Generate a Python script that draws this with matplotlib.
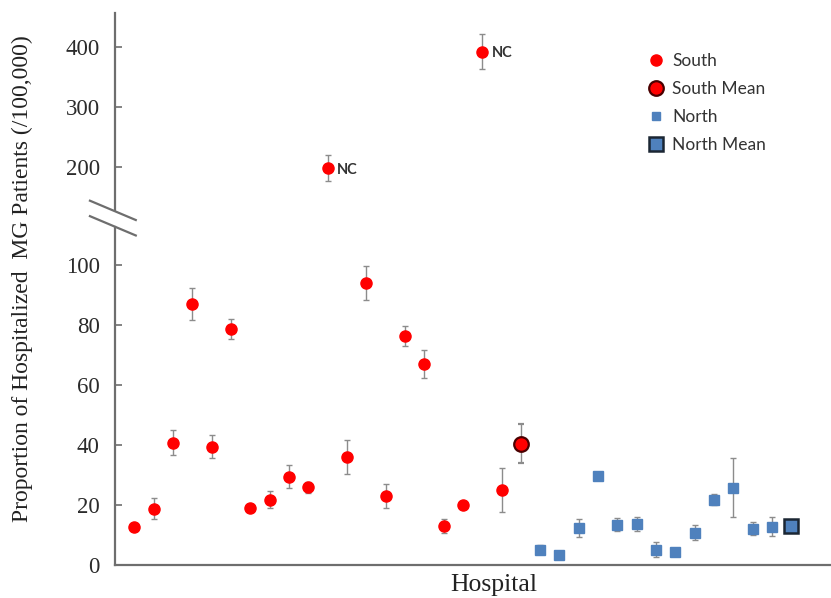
import numpy as np
import matplotlib
matplotlib.use("Agg")
import matplotlib.pyplot as plt
from matplotlib.lines import Line2D

# hospital rates (per 100,000)
south_vals = [12.8, 18.7, 40.8, 87.0, 39.4, 78.7, 18.9, 21.7, 29.4, 25.9,
              197.0, 35.9, 94.0, 23.0, 76.3, 66.9, 13.0, 20.0, 391.5, 24.9]
south_err = [0.8, 3.5, 4.2, 5.4, 3.9, 3.2, 1.0, 2.8, 3.9, 1.9,
             21.7, 5.7, 5.6, 4.0, 3.3, 4.7, 2.2, 1.0, 29.0, 7.3]
south_mean = 40.4
south_mean_err = 6.5
north_vals = [5.0, 3.2, 12.3, 29.6, 13.4, 13.7, 5.1, 4.2, 10.8, 21.7, 25.8, 12.1, 12.8]
north_err = [1.5, 0.0, 2.9, 1.0, 2.2, 2.3, 2.6, 0.0, 2.4, 1.8, 9.8, 2.2, 3.3]
north_mean = 13.1
north_mean_err = 0.0
nc_labels = {10: "NC", 18: "NC"}   # index in south list -> label
yticks = [0, 20, 40, 60, 80, 100, 200, 300, 400]

# broken axis: linear below BREAK, compressed above
BREAK = 116.0
SQUEEZE = 0.2


def forward(y):
    y = np.asarray(y, dtype=float)
    return np.where(y <= BREAK, y, BREAK + (y - BREAK) * SQUEEZE)


def inverse(t):
    t = np.asarray(t, dtype=float)
    return np.where(t <= BREAK, t, BREAK + (t - BREAK) / SQUEEZE)


red = "#ff0000"
blue = "#4f81bd"
errc = "#8c8c8c"
axc = "#6e6e6e"

fig = plt.figure(figsize=(8.31, 5.98), dpi=100)
ax = fig.add_axes([0.1384, 0.0552, 0.8616, 0.923])
ax.set_yscale("function", functions=(forward, inverse))

n_s = len(south_vals)
n_n = len(north_vals)
xs = np.arange(1, n_s + 1)
x_smean = n_s + 1
xn = np.arange(n_s + 2, n_s + 2 + n_n)
x_nmean = n_s + 2 + n_n

ekw = dict(ecolor=errc, elinewidth=1.0, capsize=2.2, capthick=1.0, linestyle="none")
ax.errorbar(xs, south_vals, yerr=south_err, marker="o", ms=8, mfc=red, mec=red, **ekw)
ax.errorbar([x_smean], [south_mean], yerr=[south_mean_err], marker="o", ms=10.5,
            mfc=red, mec="#4a0000", mew=1.6, **ekw)
ax.errorbar(xn, north_vals, yerr=north_err, marker="s", ms=7, mfc=blue, mec=blue, **ekw)
ax.errorbar([x_nmean], [north_mean], yerr=[north_mean_err], marker="s", ms=10,
            mfc=blue, mec="#1b2633", mew=1.8, **ekw)

for i, lab in nc_labels.items():
    ax.annotate(lab, (xs[i], south_vals[i]), xytext=(7, -1), textcoords="offset points",
                va="center", ha="left", fontsize=10.5, fontweight="bold",
                family="Lato", color="#333333")

ax.set_xlim(0, 37.05)
ax.set_ylim(0, 456)
ax.set_yticks(yticks)
ax.set_yticklabels([str(v) for v in yticks])
ax.minorticks_off()
ax.set_xticks([])

for s in ["top", "right", "left"]:
    ax.spines[s].set_visible(False)
ax.spines["bottom"].set_color(axc)
ax.spines["bottom"].set_linewidth(1.6)
ax.tick_params(axis="y", direction="in", length=5, width=1.2, color=axc, pad=11,
               labelsize=16.5, labelcolor="#2b2b2b")
for t in ax.get_yticklabels():
    t.set_family("Liberation Serif")

# left axis line with a gap and the "//" break mark (axes coords)
gap_lo, gap_hi = 0.612, 0.643
ax.add_line(Line2D([0, 0], [0, gap_lo], transform=ax.transAxes, color=axc, lw=1.6, clip_on=False))
ax.add_line(Line2D([0, 0], [gap_hi, 1.0], transform=ax.transAxes, color=axc, lw=1.6, clip_on=False))
for y0 in (0.660, 0.632):
    ax.add_line(Line2D([-0.035, 0.029], [y0, y0 - 0.035], transform=ax.transAxes,
                       color=axc, lw=1.6, clip_on=False))

ax.set_ylabel("Proportion of Hospitalized  MG Patients (/100,000)", family="Liberation Serif",
              fontsize=17, color="#222222")
ax.yaxis.set_label_coords(-0.115, 0.519)
ax.set_xlabel("Hospital", family="Liberation Serif", fontsize=18.5, color="#222222")
ax.xaxis.label.set_va("bottom")
ax.xaxis.set_label_coords(0.529, -0.057)

handles = [
    Line2D([], [], ls="none", marker="o", ms=8, mfc=red, mec=red),
    Line2D([], [], ls="none", marker="o", ms=10.5, mfc=red, mec="#4a0000", mew=1.6),
    Line2D([], [], ls="none", marker="s", ms=6, mfc=blue, mec=blue),
    Line2D([], [], ls="none", marker="s", ms=10, mfc=blue, mec="#1b2633", mew=1.8),
]
leg = ax.legend(handles, ["South", "South Mean", "North", "North Mean"],
                loc="upper left", bbox_to_anchor=(0.732, 0.94), frameon=False,
                prop={"family": "Lato", "size": 12.5}, labelspacing=0.69,
                handletextpad=0.3, handlelength=1.2, borderaxespad=0)
for t in leg.get_texts():
    t.set_color("#333333")

fig.savefig("out.png", dpi=100)
